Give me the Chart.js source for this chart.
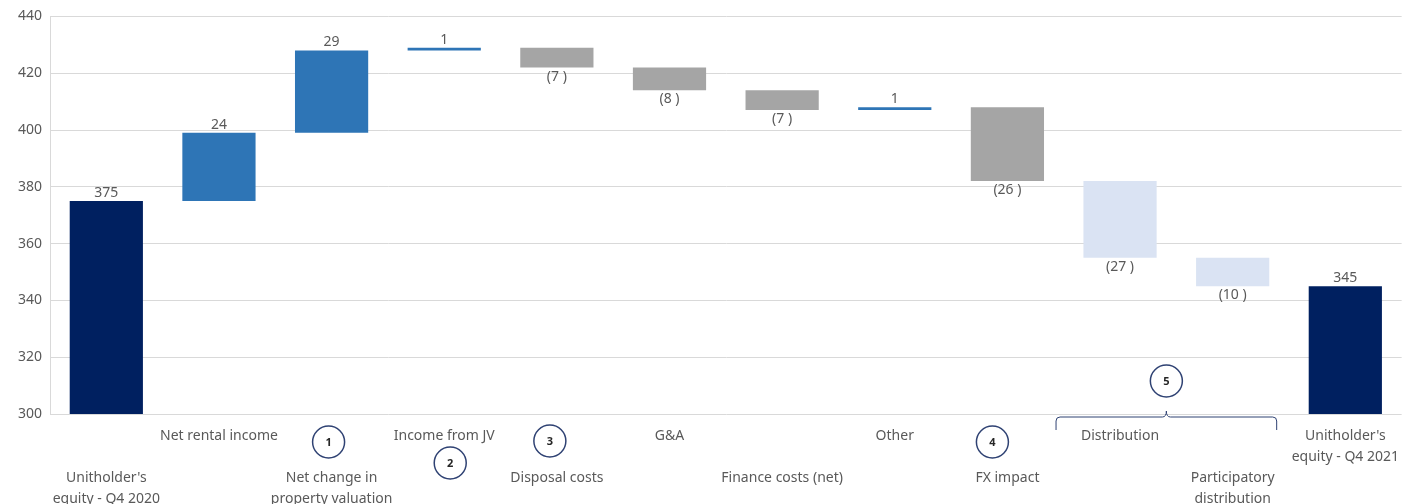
<!DOCTYPE html>
<html>
<head>
<meta charset="utf-8">
<script src="https://cdn.jsdelivr.net/npm/chart.js@4.4.0/dist/chart.umd.min.js"></script>
<style>
  html, body { margin: 0; padding: 0; background: #ffffff; }
  #wrap { width: 1403px; height: 504px; }
</style>
</head>
<body>
<div id="wrap"><canvas id="equityChart"></canvas></div>
<script>
// Unitholder's equity bridge, Q4 2020 -> Q4 2021
const categories = [
    ["Unitholder's", "equity - Q4 2020"],
    ["Net rental income"],
    ["Net change in", "property valuation"],
    ["Income from JV"],
    ["Disposal costs"],
    ["G&A"],
    ["Finance costs (net)"],
    ["Other"],
    ["FX impact"],
    ["Distribution"],
    ["Participatory", "distribution"],
    ["Unitholder's", "equity - Q4 2021"]
];
const changes = [375, 24, 29, 1, -7, -8, -7, 1, -26, -27, -10, 345];
const isTotal = [true, false, false, false, false, false, false, false, false, false, false, true];
const barColors = ["#002060", "#2E75B6", "#2E75B6", "#2E75B6", "#A5A5A5", "#A5A5A5",
                   "#A5A5A5", "#2E75B6", "#A5A5A5", "#DAE3F3", "#DAE3F3", "#002060"];
const yMin = 300;
const yMax = 440;
const yStep = 20;

// circled footnote markers (category index they sit next to)
const markers = [
    { text: "1", cat: 2, dx: -3, dy: 28 },
    { text: "2", cat: 3, dx: 6, dy: 49 },
    { text: "3", cat: 4, dx: -7, dy: 27 },
    { text: "4", cat: 8, dx: -15, dy: 28 }
];

const FONT = "'Noto Sans', 'Open Sans', sans-serif";
const TEXT = "#595959";

// build floating bars from running total
const ranges = [];
let running = 0;
changes.forEach(function (v, i) {
    if (isTotal[i]) {
        ranges.push([0, v]);
        running = v;
    } else {
        ranges.push([running, running + v]);
        running += v;
    }
});

function fmt(v) {
    return v < 0 ? "(" + Math.abs(v) + " )" : String(v);
}

const overlay = {
    id: "overlay",
    afterDatasetsDraw(chart) {
        const ctx = chart.ctx;
        const meta = chart.getDatasetMeta(0);
        ctx.save();
        ctx.font = "14px " + FONT;
        ctx.fillStyle = TEXT;
        ctx.textAlign = "center";
        meta.data.forEach(function (bar, i) {
            const v = changes[i];
            const top = Math.min(bar.y, bar.base);
            const bottom = Math.max(bar.y, bar.base);
            if (v >= 0) {
                ctx.textBaseline = "bottom";
                ctx.fillText(fmt(v), bar.x, top - 1);
            } else {
                ctx.textBaseline = "top";
                ctx.fillText(fmt(v), bar.x, bottom + 2);
            }
        });

        const xs = chart.scales.x;
        const area = chart.chartArea;
        function circle(x, y, label) {
            ctx.beginPath();
            ctx.arc(x, y, 16, 0, Math.PI * 2);
            ctx.fillStyle = "#ffffff";
            ctx.fill();
            ctx.lineWidth = 1.5;
            ctx.strokeStyle = "#2F4273";
            ctx.stroke();
            ctx.fillStyle = "#262626";
            ctx.font = "bold 11px " + FONT;
            ctx.textAlign = "center";
            ctx.textBaseline = "middle";
            ctx.fillText(label, x, y + 1);
        }
        markers.forEach(function (m) {
            circle(xs.getPixelForValue(m.cat) + m.dx, area.bottom + m.dy, m.text);
        });

        // bracket over the two distribution bars
        const x1 = xs.getPixelForValue(9) - 64;
        const x2 = xs.getPixelForValue(10) + 44;
        const mid = (xs.getPixelForValue(9) + xs.getPixelForValue(10)) / 2 - 10;
        const yb = area.bottom + 3;
        ctx.beginPath();
        ctx.strokeStyle = "#2F4273";
        ctx.lineWidth = 1;
        ctx.moveTo(x1, yb + 13);
        ctx.lineTo(x1, yb + 4);
        ctx.quadraticCurveTo(x1, yb, x1 + 4, yb);
        ctx.lineTo(mid - 4, yb);
        ctx.quadraticCurveTo(mid, yb, mid, yb - 6);
        ctx.quadraticCurveTo(mid, yb, mid + 4, yb);
        ctx.lineTo(x2 - 4, yb);
        ctx.quadraticCurveTo(x2, yb, x2, yb + 4);
        ctx.lineTo(x2, yb + 13);
        ctx.stroke();
        circle(mid, area.bottom - 33, "5");
        ctx.restore();
    }
};

const chartCanvas = document.getElementById("equityChart");

if (chartCanvas) {
    const equityChart = new Chart(chartCanvas, {
        type: "bar",
        data: {
            labels: categories,
            datasets: [
                {
                    data: ranges,
                    backgroundColor: barColors,
                    borderWidth: 0,
                    barPercentage: 0.65,
                    categoryPercentage: 1.0
                }
            ]
        },
        options: {
            responsive: true,
            maintainAspectRatio: false,
            animation: false,
            layout: { padding: { top: 10, right: 0, left: 0, bottom: 0 } },
            plugins: {
                legend: { display: false },
                tooltip: { enabled: false }
            },
            scales: {
                y: {
                    min: yMin,
                    max: yMax,
                    ticks: {
                        stepSize: yStep,
                        color: TEXT,
                        font: { family: FONT, size: 14 },
                        padding: 8
                    },
                    grid: { color: "#D9D9D9", drawTicks: false },
                    border: { display: true, color: "#D9D9D9" },
                    afterFit: function (scale) { scale.width = 50; }
                },
                x: {
                    grid: { display: false },
                    border: { display: false },
                    ticks: {
                        autoSkip: false,
                        maxRotation: 0,
                        minRotation: 0,
                        color: TEXT,
                        font: { family: FONT, size: 14, lineHeight: 1.5 },
                        padding: 4,
                        callback: function (value, index) {
                            const lines = categories[index];
                            return index % 2 === 0 ? ["", ""].concat(lines) : lines;
                        }
                    },
                    afterFit: function (scale) { scale.height = 90; }
                }
            }
        },
        plugins: [overlay]
    });
}
</script>
</body>
</html>
